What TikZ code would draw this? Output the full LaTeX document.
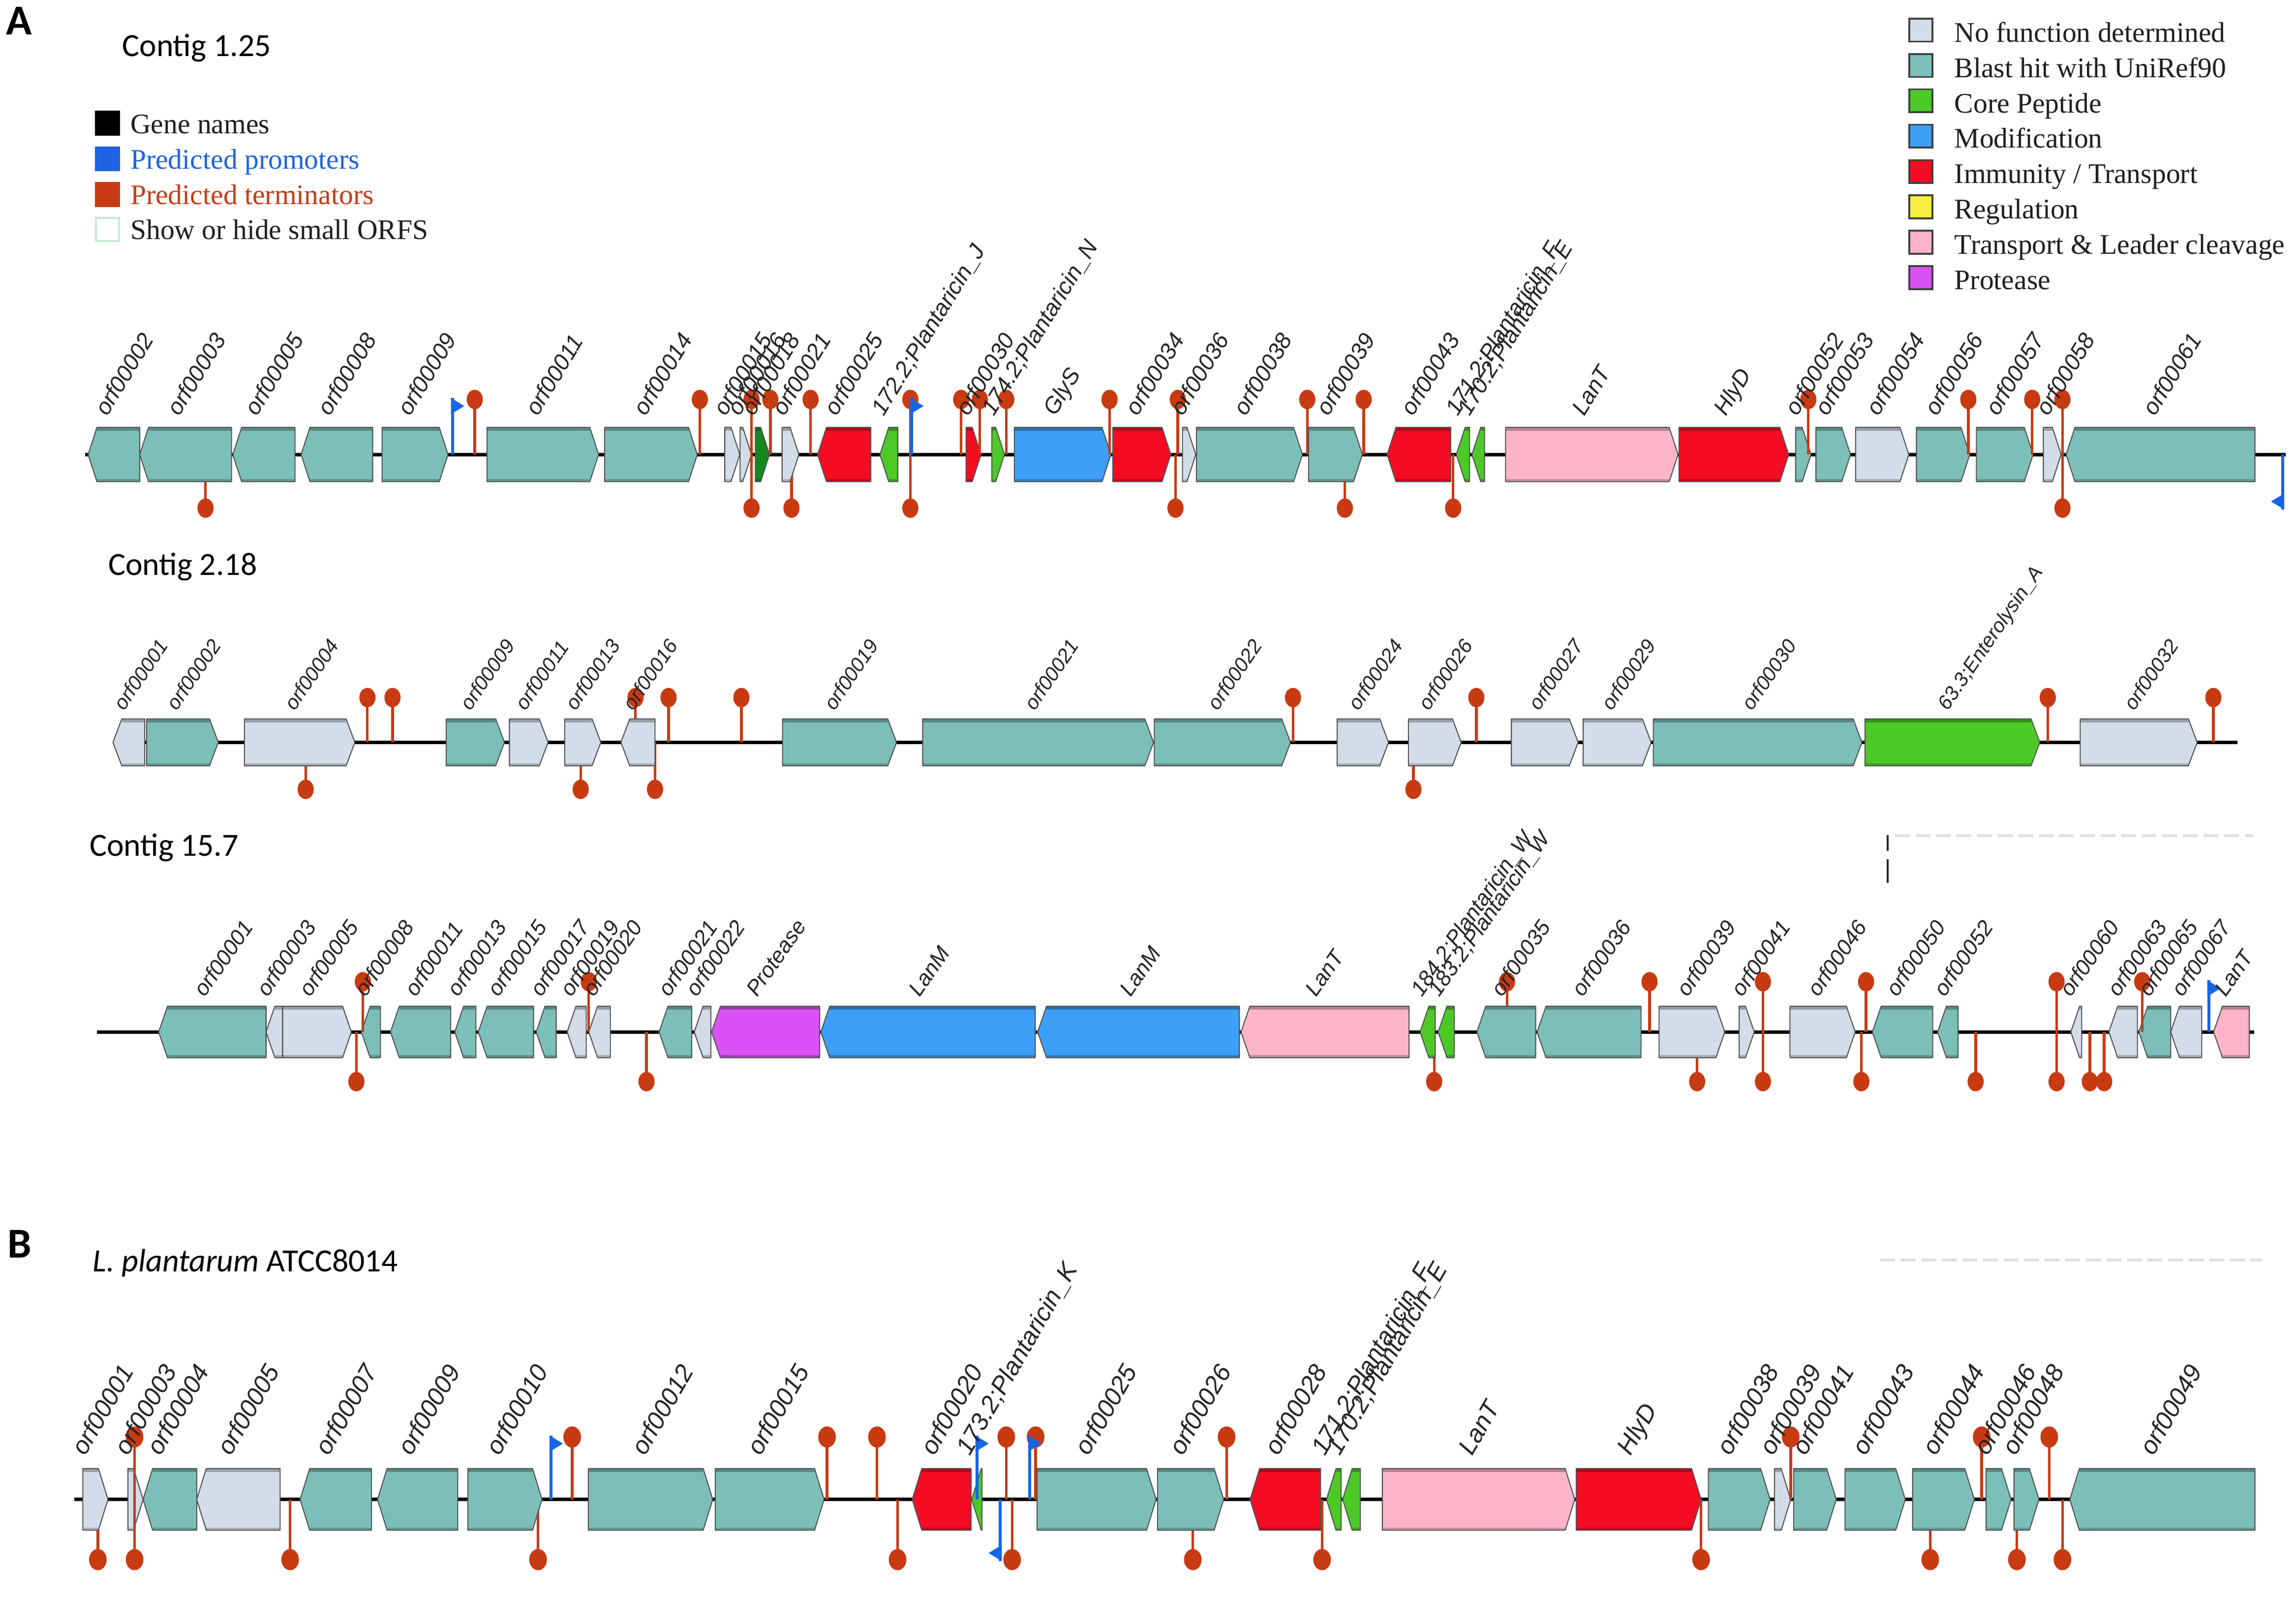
\documentclass[tikz,border=0pt]{standalone}
\usepackage{fontspec}
\setmainfont{Liberation Serif}
\setsansfont{Liberation Sans}
\newfontfamily\calib{Carlito}
\definecolor{cteal}{HTML}{7CBFB9}
\definecolor{clight}{HTML}{D3DDE9}
\definecolor{cred}{HTML}{F40C22}
\definecolor{cgreen}{HTML}{4DC927}
\definecolor{cdkgreen}{HTML}{14871E}
\definecolor{cblue}{HTML}{3D9FF8}
\definecolor{cpink}{HTML}{FCB5C8}
\definecolor{cpurple}{HTML}{DA52F5}
\definecolor{cyellow}{HTML}{F6EE3E}
\definecolor{termc}{HTML}{C83A12}
\definecolor{promc}{HTML}{1566E6}
\definecolor{labc}{HTML}{262626}
\definecolor{legblue}{HTML}{1D63E2}
\definecolor{legred}{HTML}{C93B14}
\definecolor{legmint}{HTML}{C6EAD2}
\newcounter{labn}
\newcommand\rowset[9]{\def\rowy{#1}\def\rowh{#2}\def\headT{#3}\def\headB{#4}\def\laby{#5}\def\labang{#6}\def\labfs{#7}\def\gtip{#8}\def\erx{#9pt}\pgfmathsetmacro\eryv{1.2*#9}\edef\ery{\eryv pt}}
\newcommand\genef[3]{%
  \pgfmathsetmacro\gtipw{min(\gtip,#2-#1)}%
  \fill[#3] (#1,\rowy-\rowh) -- ({#2-\gtipw},\rowy-\rowh) -- (#2,\rowy) -- ({#2-\gtipw},\rowy+\rowh) -- (#1,\rowy+\rowh) -- cycle;
  \fill[#3!72!black] (#1,\rowy-\rowh) rectangle ({#2-\gtipw},\rowy-\rowh+2.4);
  \fill[#3!80!black] (#1,\rowy+\rowh) rectangle ({#2-\gtipw},\rowy+\rowh-1.8);
  \draw[geneline] (#1,\rowy-\rowh) -- ({#2-\gtipw},\rowy-\rowh) -- (#2,\rowy) -- ({#2-\gtipw},\rowy+\rowh) -- (#1,\rowy+\rowh) -- cycle;}
\newcommand\gener[3]{%
  \pgfmathsetmacro\gtipw{min(\gtip,#2-#1)}%
  \fill[#3] (#2,\rowy-\rowh) -- ({#1+\gtipw},\rowy-\rowh) -- (#1,\rowy) -- ({#1+\gtipw},\rowy+\rowh) -- (#2,\rowy+\rowh) -- cycle;
  \fill[#3!72!black] ({#1+\gtipw},\rowy-\rowh) rectangle (#2,\rowy-\rowh+2.4);
  \fill[#3!80!black] ({#1+\gtipw},\rowy+\rowh) rectangle (#2,\rowy+\rowh-1.8);
  \draw[geneline] (#2,\rowy-\rowh) -- ({#1+\gtipw},\rowy-\rowh) -- (#1,\rowy) -- ({#1+\gtipw},\rowy+\rowh) -- (#2,\rowy+\rowh) -- cycle;}
\newcommand\termT[1]{\draw[stick] (#1,\rowy) -- (#1,\headT); \fill[termc] (#1,\headT) ellipse [x radius=\erx, y radius=\ery];}
\newcommand\termB[1]{\draw[stick] (#1,\rowy) -- (#1,\headB); \fill[termc] (#1,\headB) ellipse [x radius=\erx, y radius=\ery];}
\newcommand\frontT[1]{\draw[stick] (#1,\rowy) -- (#1,\headT);}
\newcommand\frontB[1]{\draw[stick] (#1,\rowy) -- (#1,\headB);}
\newcommand\promT[1]{\draw[promline] (#1,\rowy) -- (#1,\headT-1); \fill[promc] (#1-1,\headT-1) -- (#1+8,\headT+4.5) -- (#1-1,\headT+10) -- cycle;}
\newcommand\promB[1]{\draw[promline] (#1,\rowy) -- (#1,\headB+1); \fill[promc] (#1+1,\headB+1) -- (#1-8,\headB-4.5) -- (#1+1,\headB-10) -- cycle;}
\newcommand\glab[2]{\stepcounter{labn}\node[glabel, rotate=\labang] (gl\arabic{labn}) at (#1,\laby) {\fontsize{\labfs}{\labfs}\selectfont\sffamily\itshape #2};}
\tikzset{
  geneline/.style={draw=black!68, line width=0.7pt, line join=round},
  stick/.style={draw=termc, line width=1.8pt},
  promline/.style={draw=promc, line width=2pt},
  backbone/.style={draw=black, line width=2.4pt},
  glabel/.style={anchor=base west, inner sep=0pt, text=labc},
  legsq/.style={minimum size=15.7pt, inner sep=0pt, line width=1.3pt},
  legtxt/.style={anchor=base west, inner sep=0pt, font=\fontsize{19.3}{19.3}\selectfont},
  title/.style={anchor=base west, inner sep=0pt, font=\fontsize{22}{22}\selectfont\calib},
  panel/.style={anchor=base west, inner sep=0pt, font=\fontsize{29}{29}\selectfont\calib\bfseries},
}
\begin{document}
\begin{tikzpicture}[x=1pt,y=-1pt]
\useasboundingbox[fill=white] (0,0) rectangle (1563,1105.8);
% ---------- titles ----------
\node[panel] (pA) at (4,23.5) {A};
\node[panel] (pB) at (5,856.5) {B};
\node[title] (t1) at (83,38.3) {Contig 1.25};
\node[title] (t2) at (73.5,391.5) {Contig 2.18};
\node[title] (t3) at (60.8,583) {Contig 15.7};
\node[title] (t4) at (63,866) {{\itshape L. plantarum} ATCC8014};
% ---------- left legend ----------
\node[legsq, fill=black, draw=black] (lk1) at (73.1,84) {};
\node[legsq, fill=legblue, draw=legblue] (lk2) at (73.1,108.2) {};
\node[legsq, fill=legred, draw=legred] (lk3) at (73.1,132.4) {};
\node[legsq, fill=white, draw=legmint] (lk4) at (73.1,156.2) {};
\node[legtxt, text=black!88] (lt1) at (88.6,91) {Gene names};
\node[legtxt, text=legblue] (lt2) at (88.6,115) {Predicted promoters};
\node[legtxt, text=legred] (lt3) at (88.6,139) {Predicted terminators};
\node[legtxt, text=black!88] (lt4) at (88.6,163) {Show or hide small ORFS};
% ---------- right legend ----------
\foreach \c/\t [count=\k from 0] in {clight/{No function determined}, cteal/{Blast hit with UniRef90}, cgreen/{Core Peptide}, cblue/{Modification}, cred/{Immunity / Transport}, cyellow/{Regulation}, cpink/{Transport \& Leader cleavage}, cpurple/{Protease}} {
  \node[legsq, fill=\c, draw=black!75] (rk\k) at (1307.6,20.45+24.1*\k) {};
  \node[legtxt, text=black!88] (rt\k) at (1330.3,28.5+24.1*\k) {\t};
}
% ================= Contig 1.25 =================
\rowset{309.5}{18.5}{272}{346}{284}{58.5}{15.6}{6}{5.5}
\draw[backbone] (58,\rowy) -- (1556,\rowy);
\foreach \x in {323.2,476.4,511.6,524.4,551.8,619.7,654.3,667,685,755.3,801.8,889.9,928.3,1231,1339.9,1383.4,1404} {\termT{\x}}
\foreach \x in {139.9,511.6,538.8,619.7,800.2,915.5,989.2,1404} {\termB{\x}}
\gener{60}{95.1}{cteal}
\gener{95.1}{157.6}{cteal}
\gener{158.5}{200.8}{cteal}
\gener{205}{253.7}{cteal}
\genef{260.1}{305}{cteal}
\genef{331.5}{407.5}{cteal}
\genef{411.6}{474.7}{cteal}
\genef{493.4}{503.6}{clight}
\genef{503.8}{511.6}{clight}
\genef{514.2}{523.8}{cdkgreen}
\genef{532.4}{543.8}{clight}
\gener{556.6}{592.8}{cred}
\gener{599}{611.1}{cgreen}
\genef{657.6}{667.8}{cred}
\genef{675.2}{683.8}{cgreen}
\genef{690.5}{756.2}{cblue}
\genef{757.5}{797}{cred}
\genef{805}{814}{clight}
\genef{814.5}{886.6}{cteal}
\genef{890.8}{927.4}{cteal}
\gener{944.3}{987.6}{cred}
\gener{991.4}{1000.4}{cgreen}
\gener{1002}{1010.6}{cgreen}
\genef{1024.9}{1142.3}{cpink}
\genef{1143}{1217.6}{cred}
\genef{1222.4}{1232.8}{cteal}
\genef{1236.2}{1259.7}{cteal}
\genef{1263.2}{1299.4}{clight}
\genef{1304.6}{1340.9}{cteal}
\genef{1345.4}{1384}{cteal}
\genef{1391}{1403.1}{clight}
\gener{1406.5}{1535}{cteal}
\frontT{511.6}\frontB{511.6}\frontT{667}\frontT{755.3}\frontT{801.8}\frontB{800.2}
\frontT{1231}\frontT{1339.9}\frontT{1383.4}\frontT{1404}\frontB{1404}
\promT{308}\promT{620.7}\promB{1554}
\glab{73}{orf00002}\glab{122}{orf00003}\glab{175}{orf00005}\glab{224.5}{orf00008}
\glab{279}{orf00009}\glab{366}{orf00011}\glab{439.5}{orf00014}\glab{494}{orf00015}
\glab{503.5}{orf00016}\glab{513}{orf00018}\glab{534}{orf00021}\glab{569.5}{orf00025}
\glab{601.5}{172.2;Plantaricin\_J}\glab{659}{orf00030}\glab{676.5}{174.2;Plantaricin\_N}
\glab{718.4}{GlyS}\glab{774.5}{orf00034}\glab{805}{orf00036}\glab{848}{orf00038}
\glab{904.3}{orf00039}\glab{962}{orf00043}\glab{992.4}{171.2;Plantaricin\_F}
\glab{1000.4}{170.2;Plantaricin\_E}\glab{1078.4}{LanT}\glab{1175}{HlyD}
\glab{1223.5}{orf00052}\glab{1244}{orf00053}\glab{1278.7}{orf00054}\glab{1318.4}{orf00056}
\glab{1360}{orf00057}\glab{1394.4}{orf00058}\glab{1467}{orf00061}
% ================= Contig 2.18 =================
\rowset{505.5}{16}{475}{537.5}{484.5}{55.5}{13.7}{6}{5.5}
\draw[backbone] (76.9,\rowy) -- (1523,\rowy);
\foreach \x in {250.1,267.2,432.6,455.1,504.7,880.2,1005,1394,1506.7} {\termT{\x}}
\foreach \x in {208.1,395.3,445.9,962.2} {\termB{\x}}
\gener{76.9}{98.5}{clight}
\genef{99.8}{148.6}{cteal}
\genef{166.4}{241.6}{clight}
\genef{303.8}{343.4}{cteal}
\genef{346.8}{373.1}{clight}
\genef{384.4}{409}{clight}
\gener{422.7}{445.9}{clight}
\genef{532.7}{610.3}{cteal}
\genef{628.1}{785.3}{cteal}
\genef{785.8}{878.5}{cteal}
\genef{910.3}{945.2}{clight}
\genef{958.8}{994.7}{clight}
\genef{1028.9}{1074.3}{clight}
\genef{1077.7}{1124}{clight}
\genef{1125.5}{1267.5}{cteal}
\genef{1269.6}{1388.6}{cgreen}
\genef{1416.1}{1495.7}{clight}
\glab{84.4}{orf00001}\glab{120.3}{orf00002}\glab{200.6}{orf00004}\glab{320.2}{orf00009}
\glab{357.8}{orf00011}\glab{391.9}{orf00013}\glab{431.2}{orf00016}\glab{567.9}{orf00019}
\glab{704.3}{orf00021}\glab{829}{orf00022}\glab{924.7}{orf00024}\glab{972.5}{orf00026}
\glab{1047.7}{orf00027}\glab{1097.1}{orf00029}\glab{1192.8}{orf00030}
\glab{1325.9}{63.3;Enterolysin\_A}\glab{1452.9}{orf00032}
% ================= Contig 15.7 =================
\rowset{702.7}{17.5}{668.5}{736.5}{679.5}{55}{14.8}{6}{5.5}
\draw[black!85, line width=1.2pt] (1285,568.8) -- (1285,579.5);
\draw[black!85, line width=1.2pt] (1285,585) -- (1285,601);
\draw[black!12, line width=2pt, dash pattern=on 10pt off 4pt] (1290,569) -- (1534,569);
\draw[backbone] (65.9,\rowy) -- (1534.4,\rowy);
\foreach \x in {247,400.8,1025.9,1122.9,1200.1,1270.3,1400,1458.3} {\termT{\x}}
\foreach \x in {242.6,440.1,976.3,1155.3,1200.1,1267.1,1344.9,1400,1422.6,1432.4} {\termB{\x}}
\gener{108}{181.1}{cteal}
\gener{181.1}{192.4}{clight}
\genef{192.4}{239.2}{clight}
\gener{246}{259}{cteal}
\gener{265.8}{306.8}{cteal}
\gener{309.6}{324}{cteal}
\gener{325.6}{363.2}{cteal}
\gener{365}{378.6}{cteal}
\gener{386.1}{399.1}{clight}
\gener{400.8}{415.5}{clight}
\gener{448.7}{470.9}{cteal}
\gener{472.6}{483.9}{clight}
\gener{484.4}{558}{cpurple}
\gener{558.8}{704.7}{cblue}
\gener{706.4}{843.7}{cblue}
\gener{844.8}{959.2}{cpink}
\gener{966.7}{977}{cgreen}
\gener{979}{990}{cgreen}
\gener{1005.4}{1045.4}{cteal}
\gener{1046.4}{1117.1}{cteal}
\genef{1129.4}{1174.1}{clight}
\genef{1183.9}{1194.2}{clight}
\genef{1218.5}{1262.9}{clight}
\gener{1274.6}{1315.7}{cteal}
\gener{1319}{1332.9}{cteal}
\gener{1409.7}{1417.1}{clight}
\gener{1435.6}{1455}{clight}
\gener{1456}{1477.7}{cteal}
\gener{1477.7}{1498.8}{clight}
\gener{1506.9}{1531.2}{cpink}
\frontT{247}\frontB{242.6}\frontT{400.8}\frontT{1200.1}\frontB{1200.1}
\frontT{1270.3}\frontB{1267.1}\frontT{1458.3}
\promT{1503.6}
\glab{139.4}{orf00001}\glab{182.1}{orf00003}\glab{211.2}{orf00005}\glab{248.8}{orf00008}
\glab{282.9}{orf00011}\glab{312}{orf00013}\glab{339.3}{orf00015}\glab{368.4}{orf00017}
\glab{388.9}{orf00019}\glab{404.2}{orf00020}\glab{455.5}{orf00021}\glab{474.3}{orf00022}
\glab{515.3}{Protease}\glab{626}{LanM}\glab{769.6}{LanM}\glab{896}{LanT}
\glab{967.8}{184.2;Plantaricin\_W}\glab{979.7}{183.2;Plantaricin\_W}
\glab{1022.4}{orf00035}\glab{1077.4}{orf00036}\glab{1148.9}{orf00039}\glab{1186.1}{orf00041}
\glab{1238}{orf00046}\glab{1291.4}{orf00050}\glab{1323.8}{orf00052}\glab{1409.7}{orf00060}
\glab{1442.1}{orf00063}\glab{1463.1}{orf00065}\glab{1485.8}{orf00067}\glab{1515}{LanT}
% ================= L. plantarum ATCC8014 =================
\rowset{1021}{21}{978.5}{1062}{992}{60}{17}{6.5}{6}
\draw[black!12, line width=2pt, dash pattern=on 10pt off 4pt] (1280,858) -- (1540,858);
\draw[backbone] (50.6,\rowy) -- (1535,\rowy);
\foreach \x in {91.6,389.5,563,597,685,705,835,1219,1349,1395} {\termT{\x}}
\foreach \x in {66.6,91.6,197.5,366.3,611,689,812,900,1158,1314,1373,1404} {\termB{\x}}
\genef{56.4}{73.5}{clight}
\genef{87.1}{97.4}{clight}
\gener{97.4}{133.9}{cteal}
\gener{133.9}{190.7}{clight}
\gener{204.3}{252.9}{cteal}
\gener{257}{311.6}{cteal}
\genef{318.5}{369}{cteal}
\genef{400.5}{485.2}{cteal}
\genef{486.9}{561}{cteal}
\gener{621}{661}{cred}
\gener{661.5}{668.5}{cgreen}
\genef{706}{787}{cteal}
\genef{788}{833}{cteal}
\gener{851}{899}{cred}
\gener{903}{913}{cgreen}
\gener{914}{926}{cgreen}
\genef{941}{1072}{cpink}
\genef{1073}{1158}{cred}
\genef{1163}{1205}{cteal}
\genef{1208}{1219}{clight}
\genef{1221}{1250}{cteal}
\genef{1256}{1297}{cteal}
\genef{1302}{1344}{cteal}
\genef{1352}{1369}{cteal}
\genef{1371}{1388}{cteal}
\gener{1409}{1535}{cteal}
\frontT{91.6}\frontB{91.6}\frontT{1219}
\promT{375.2}\promT{665}\promB{681}\promT{701}
\glab{58.1}{orf00001}\glab{87.1}{orf00003}\glab{109.3}{orf00004}\glab{157.2}{orf00005}
\glab{223.8}{orf00007}\glab{280.2}{orf00009}\glab{340}{orf00010}\glab{439.1}{orf00012}
\glab{517.7}{orf00015}\glab{636}{orf00020}\glab{660}{173.2;Plantaricin\_K}
\glab{741}{orf00025}\glab{805}{orf00026}\glab{870}{orf00028}
\glab{902}{171.2;Plantaricin\_F}\glab{912}{170.2;Plantaricin\_E}
\glab{1002}{LanT}\glab{1110}{HlyD}\glab{1178}{orf00038}\glab{1207}{orf00039}
\glab{1229}{orf00041}\glab{1270}{orf00043}\glab{1318}{orf00044}\glab{1353}{orf00046}
\glab{1372}{orf00048}\glab{1466}{orf00049}
\end{tikzpicture}
\end{document}
